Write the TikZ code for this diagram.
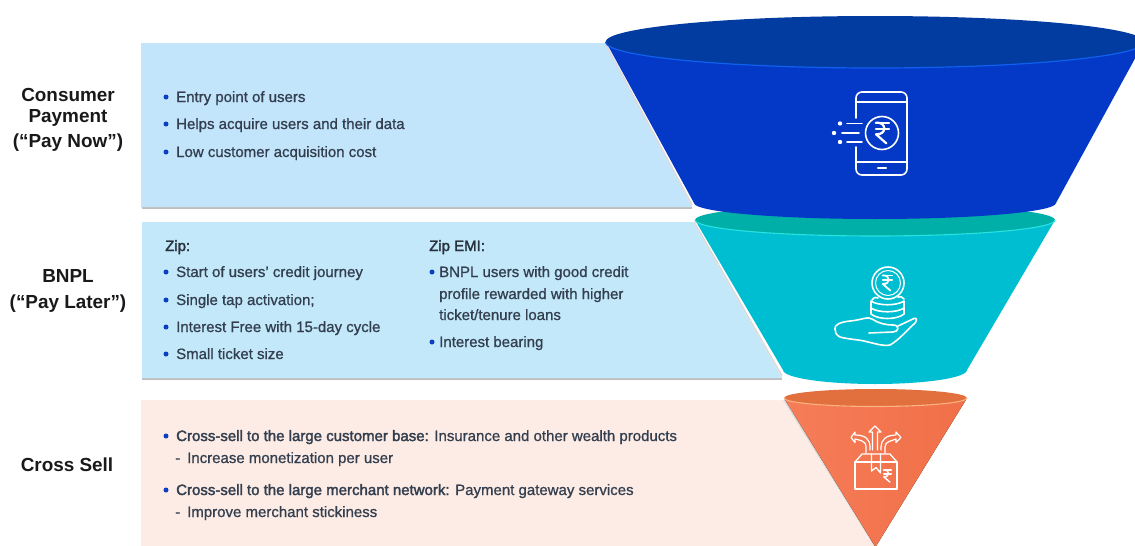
\documentclass[tikz,border=0pt]{standalone}
\usepackage{fontspec}
\setmainfont{Liberation Sans}
\newfontfamily\bodyfont[FakeBold=0.9]{Liberation Sans}
\newfontfamily\strongfont[FakeBold=2.2]{Liberation Sans}
\definecolor{txt}{HTML}{333F4F}
\definecolor{bul}{HTML}{0B3FBF}
\tikzset{
  sidelabel/.style={font=\fontsize{18.9}{21}\selectfont\bfseries, text=black!90, align=center, inner sep=0},
  bodytxt/.style={font=\fontsize{15}{17}\bodyfont, text=txt, anchor=base west, inner sep=0},
  headtxt/.style={font=\fontsize{15}{17}\strongfont, text=txt!80!black, anchor=base west, inner sep=0},
  bulletdot/.style={fill=bul, draw=none},
  icon/.style={draw=white, line width=1.6pt, line cap=round, line join=round},
  edgeshadow/.style={draw=black!14, line width=1.6pt},
}
\newcommand\bitem[5]{% name, dot x, text x, centre y, text
  \fill[bulletdot] (#2,#4) circle (2.5pt);
  \node[bodytxt] (#1) at (#3,#4+5) {#5};}
\newcommand\rupeeicon[4]{% x, y, scale, width
  \begin{scope}[shift={(#1,#2)},x=#3pt,y=-#3pt]
    \draw[icon,line width=#4pt] (-0.5,-0.8)--(0.5,-0.8) (-0.5,-0.3)--(0.5,-0.3);
    \draw[icon,line width=#4pt] (-0.5,-0.8) .. controls (0.35,-0.85) and (0.35,0.15) .. (-0.5,0.1) -- (0.3,0.8);
  \end{scope}}
\begin{document}
\begin{tikzpicture}[x=1pt,y=-1pt]
\path[clip] (0,0) rectangle (1135,546);
\fill[white] (0,0) rectangle (1135,546);

% panels
\fill[black!25] (142,207) rectangle (692,208.5);
\fill[black!25] (142,378) rectangle (782,379.5);
\fill[color={rgb,255:red,195;green,229;blue,251}] (141,43) -- (605,43) -- (692,207) -- (141,207) -- cycle;
\fill[color={rgb,255:red,194;green,232;blue,249}] (142,222) -- (693,222) -- (782,378) -- (142,378) -- cycle;
\fill[color={rgb,255:red,253;green,236;blue,229}] (141,400) -- (784,400) -- (875,546) -- (141,546) -- cycle;
\draw[edgeshadow] (605,43) -- (692,205);
\draw[edgeshadow] (694,222) -- (782,376);
\draw[edgeshadow] (784,400) -- (875,546);

% orange funnel
\fill[left color={rgb,255:red,245;green,125;blue,88},right color={rgb,255:red,240;green,112;blue,72},middle color={rgb,255:red,243;green,118;blue,80}]
  (784,398) -- (875.5,547) -- (967,398) -- cycle;
\fill[color={rgb,255:red,226;green,112;blue,62}] (875.5,398) ellipse [x radius=91.5pt,y radius=9pt];
\draw[color={rgb,255:red,255;green,178;blue,130},line width=1.1pt] (784,398) arc[start angle=180,end angle=360,x radius=91.5pt,y radius=8.5pt];

% teal funnel
\fill[color={rgb,255:red,0;green,190;blue,210}]
  (695,220) -- (783,370) arc[start angle=180,end angle=360,x radius=92pt,y radius=14pt] -- (1055,220) -- cycle;
\fill[color={rgb,255:red,0;green,176;blue,168}] (875,220) ellipse [x radius=180pt,y radius=16pt];
\draw[color={rgb,255:red,40;green,226;blue,226},line width=1.1pt] (695,220) arc[start angle=180,end angle=360,x radius=180pt,y radius=16pt];

% blue funnel
\fill[color={rgb,255:red,4;green,57;blue,200}]
  (606,42) -- (694,203) arc[start angle=180,end angle=360,x radius=181pt,y radius=16pt] -- (1144,42) -- cycle;
\fill[color={rgb,255:red,2;green,60;blue,160}] (875,42) ellipse [x radius=269.5pt,y radius=26pt];
\draw[color={rgb,255:red,16;green,96;blue,240},line width=1.2pt] (605.5,42) arc[start angle=180,end angle=360,x radius=269.5pt,y radius=26pt];

% phone icon
\draw[icon] (856,118) -- (856,98) arc[start angle=180,end angle=90,radius=6pt] -- (901,92) arc[start angle=90,end angle=0,radius=6pt] -- (907,169) arc[start angle=360,end angle=270,radius=6pt] -- (862,175) arc[start angle=270,end angle=180,radius=6pt] -- (856,147);
\draw[icon] (856,102) -- (907,102) (856,162) -- (907,162);
\draw[icon] (882,133) circle (16.5pt);
\draw[icon,line width=2.4pt] (878,168) -- (886,168);
\rupeeicon{882.5}{133}{13}{2.2}
\draw[icon] (847,123.5) -- (862,123.5) (842,133) -- (859,133) (847,142) -- (862,142);
\fill[white] (840,123.5) circle (2.2pt) (834,133) circle (2.2pt) (840,142) circle (2.2pt);

% coins icon
\draw[icon] (888,283) circle (16pt);
\draw[icon,line width=1pt] (888,283) circle (12.5pt);
\rupeeicon{887.5}{283}{9.5}{1.8}
\draw[icon] (872,300) .. controls (874,296) and (878,298) .. (878,298) (904,299) .. controls (903,296) and (900,297) .. (898,297);
\draw[icon] (871,301) .. controls (878,306) and (897,306) .. (904,301) (871,301) -- (871,308) .. controls (878,313) and (897,313) .. (904,308) -- (904,301)
  (871,308) -- (871,314) .. controls (878,320) and (897,320) .. (904,314) -- (904,308);
\draw[icon] (835,329) .. controls (834,325) and (840,322) .. (850,321) .. controls (862,320) and (868,316) .. (872,319) .. controls (878,323) and (885,325) .. (893,325) .. controls (900,325) and (899,332) .. (893,332) -- (869,333);
\draw[icon] (898,326) -- (914,318.5) .. controls (917,317) and (917,321) .. (915,323) .. controls (906,331) and (899,340) .. (890,345) .. controls (882,347) and (868,341) .. (858,340) .. controls (850,339) and (843,338) .. (840,337) .. controls (836,335) and (835,332) .. (835,329);

% box icon
\draw[icon,line width=1.3pt] (855,462) rectangle (897,489);
\draw[icon,line width=1.3pt] (855,462) -- (862,454) -- (890,454) -- (897,462);
\draw[icon,line width=1.3pt] (871.5,454) -- (871.5,471) -- (876,467.5) -- (880.5,473) -- (880.5,454);
\rupeeicon{887.5}{476}{7.5}{1.5}
\draw[icon,line width=1.2pt] (872.5,450) -- (872.5,432) -- (869,432) -- (875,426) -- (881,432) -- (877.5,432) -- (877.5,450);
\draw[icon,line width=1.2pt] (866,453) -- (866,447) .. controls (866,440) and (858,440) .. (855,439) -- (855,442.5) -- (851,437.5) -- (855,432) -- (855,435) .. controls (865,435) and (870,439) .. (870,447) -- (870,450);
\draw[icon,line width=1.2pt] (885,453) -- (885,447) .. controls (885,441) and (892,441) .. (896,439) -- (896,442.5) -- (901,437.5) -- (896,432) -- (896,435) .. controls (886,435) and (881,440) .. (881,447) -- (881,450);

% side labels
\node[sidelabel] (lblA) at (68,120) {Consumer\\Payment\\[4pt](“Pay Now”)};
\node[sidelabel] (lblB) at (68,291) {BNPL\\[5pt](“Pay Later”)};
\node[sidelabel] (lblC) at (67,465) {Cross Sell};

% panel 1
\bitem{a1}{166}{176}{97}{Entry point of users}
\bitem{a2}{166}{176}{124}{Helps acquire users and their data}
\bitem{a3}{166}{176}{152}{Low customer acquisition cost}

% panel 2
\node[headtxt] (zip) at (165,251) {Zip:};
\bitem{b1}{166}{176}{272}{Start of users’ credit journey}
\bitem{b2}{166}{176}{300}{Single tap activation;}
\bitem{b3}{166}{176}{327}{Interest Free with 15-day cycle}
\bitem{b4}{166}{176}{354}{Small ticket size}
\node[headtxt] (zipemi) at (429,251) {Zip EMI:};
\bitem{c1}{432}{439}{272}{BNPL users with good credit}
\node[bodytxt] (c2) at (439,299) {profile rewarded with higher};
\node[bodytxt] (c3) at (439,320) {ticket/tenure loans};
\bitem{c4}{432}{439}{342}{Interest bearing}

% panel 3
\bitem{d1}{166}{176}{436}{{\strongfont Cross-sell to the large customer base:} Insurance and other wealth products}
\node[bodytxt] (d2) at (175,463) {-\hspace{7pt}Increase monetization per user};
\bitem{d3}{166}{176}{490}{{\strongfont Cross-sell to the large merchant network:} Payment gateway services}
\node[bodytxt] (d4) at (175,517) {-\hspace{7pt}Improve merchant stickiness};
\end{tikzpicture}
\end{document}
